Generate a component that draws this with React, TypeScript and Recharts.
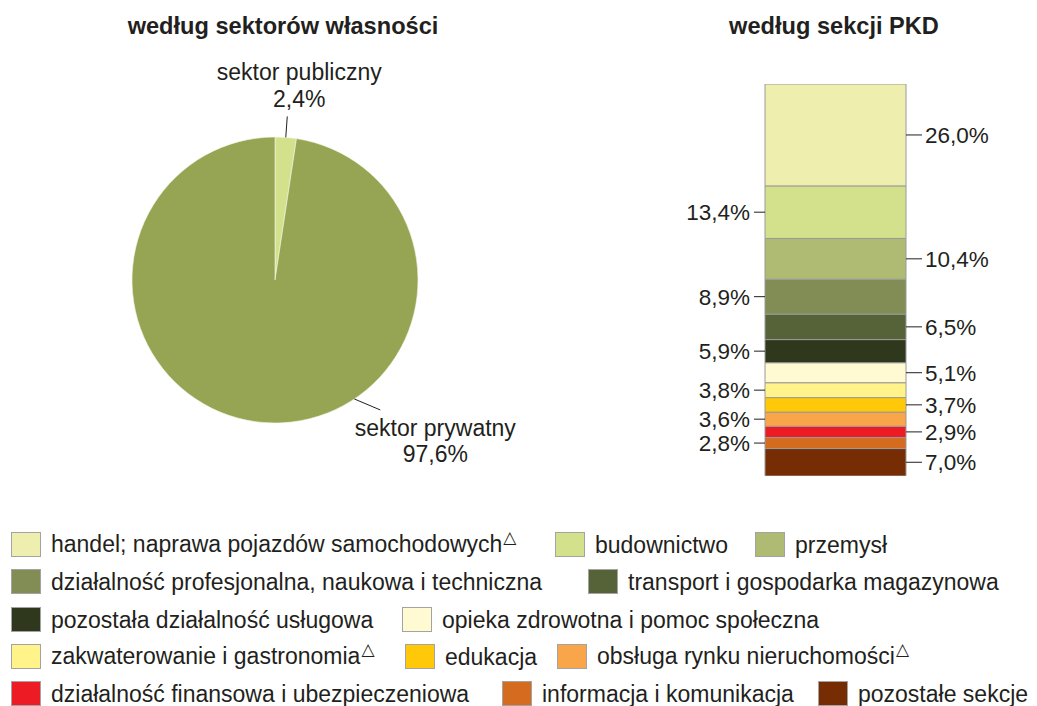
import { Bar, BarChart, Cell, Pie, PieChart, XAxis, YAxis } from "recharts";

// Ownership split (pie, left) and PKD section split (100% stacked column, right).

const ownershipNames = ["sektor publiczny", "sektor prywatny"];
const ownershipShares = [2.4, 97.6];
const ownershipColors = ["#d3e08c", "#95a553"];

// top of the column -> bottom
const sectionNames = [
  "handel; naprawa pojazdów samochodowych",
  "budownictwo",
  "przemysł",
  "działalność profesjonalna, naukowa i techniczna",
  "transport i gospodarka magazynowa",
  "pozostała działalność usługowa",
  "opieka zdrowotna i pomoc społeczna",
  "zakwaterowanie i gastronomia",
  "edukacja",
  "obsługa rynku nieruchomości",
  "działalność finansowa i ubezpieczeniowa",
  "informacja i komunikacja",
  "pozostałe sekcje",
];
const sectionShares = [26.0, 13.4, 10.4, 8.9, 6.5, 5.9, 5.1, 3.8, 3.7, 3.6, 2.9, 2.8, 7.0];
const sectionColors = [
  "#eeefae",
  "#d3e08c",
  "#afbb73",
  "#818d55",
  "#566338",
  "#2f381c",
  "#fffad2",
  "#fff38a",
  "#ffc90a",
  "#f9a54a",
  "#ed1c24",
  "#d56b1f",
  "#772d03",
];
const sectionMarked = [true, false, false, false, false, false, false, true, false, true, false, false, false];

// legend rows (indices into sectionNames) and the x of each swatch
const legendRows = [[0, 1, 2], [3, 4], [5, 6], [7, 8, 9], [10, 11, 12]];
const legendX = [[11, 555, 755], [11, 588], [11, 402], [11, 405, 557], [11, 502, 818]];

const FONT = "'Liberation Sans', Arial, sans-serif";
const INK = "#231f20";

const fmt = (v: number) => v.toFixed(1).replace(".", ",") + "%";

const pieData = ownershipNames.map((name, i) => ({ name, value: ownershipShares[i] }));

const barRow: Record<string, string | number> = { name: "PKD" };
sectionNames.forEach((n, i) => {
  barRow["s" + i] = sectionShares[i];
});

// leader offsets for the two pie labels
const leaderAngle = [null, -56.3];
const leaderEnd = [
  [1.5, -21],
  [26, 11],
];
const labelText = [
  [12, -36, -9],
  [55, 26, 52],
];

function OwnershipLabel(props: any) {
  const { cx, cy, outerRadius, midAngle, index, name, value } = props;
  const RAD = Math.PI / 180;
  const a = leaderAngle[index] ?? midAngle;
  const sx = cx + outerRadius * Math.cos(-a * RAD);
  const sy = cy + outerRadius * Math.sin(-a * RAD);
  const ex = sx + leaderEnd[index][0];
  const ey = sy + leaderEnd[index][1];
  const [dx, d1, d2] = labelText[index];
  return (
    <g>
      <line x1={sx} y1={sy} x2={ex} y2={ey} stroke={INK} strokeWidth={1} />
      <text x={ex + dx} y={ey + d1} textAnchor="middle" fontSize={23} fill={INK} fontFamily={FONT}>
        {name}
      </text>
      <text x={ex + dx} y={ey + d2} textAnchor="middle" fontSize={23} fill={INK} fontFamily={FONT}>
        {fmt(value)}
      </text>
    </g>
  );
}

const sectionLabel = (i: number) => (props: any) => {
  const { x, y, width, height } = props;
  const right = i % 2 === 0;
  const my = y + height / 2;
  if (right) {
    const x0 = x + width;
    return (
      <g>
        <line x1={x0} y1={my} x2={x0 + 16} y2={my} stroke={INK} strokeWidth={1} />
        <text x={x0 + 19} y={my + 8} fontSize={22.5} fill={INK} fontFamily={FONT}>
          {fmt(sectionShares[i])}
        </text>
      </g>
    );
  }
  return (
    <g>
      <line x1={x - 11} y1={my} x2={x} y2={my} stroke={INK} strokeWidth={1} />
      <text x={x - 15} y={my + 8} textAnchor="end" fontSize={22.5} fill={INK} fontFamily={FONT}>
        {fmt(sectionShares[i])}
      </text>
    </g>
  );
};

const titleStyle = {
  position: "absolute" as const,
  top: 13,
  fontSize: 23.6,
  fontWeight: 700,
  color: INK,
  transform: "translateX(-50%)",
  whiteSpace: "nowrap" as const,
};

export default function App() {
  const stackOrder = sectionNames.map((_, i) => i).reverse();
  return (
    <div
      style={{
        position: "absolute",
        left: 0,
        top: 0,
        width: 1037,
        height: 706,
        background: "#fff",
        fontFamily: FONT,
        overflow: "hidden",
      }}
    >
      <div style={{ ...titleStyle, left: 283 }}>według sektorów własności</div>
      <div style={{ ...titleStyle, left: 834 }}>według sekcji PKD</div>

      <div style={{ position: "absolute", left: 0, top: 0 }}>
        <PieChart width={560} height={490} margin={{ top: 0, right: 0, bottom: 0, left: 0 }}>
          <Pie
            data={pieData}
            dataKey="value"
            nameKey="name"
            cx={275}
            cy={280}
            outerRadius={143}
            startAngle={90}
            endAngle={-270}
            stroke="#f4f6e6"
            strokeWidth={0.6}
            labelLine={false}
            label={OwnershipLabel}
            isAnimationActive={false}
          >
            {pieData.map((d, i) => (
              <Cell key={d.name} fill={ownershipColors[i]} />
            ))}
          </Pie>
        </PieChart>
      </div>

      <div style={{ position: "absolute", left: 560, top: 0 }}>
        <BarChart
          width={477}
          height={500}
          data={[barRow]}
          barCategoryGap={0}
          margin={{ top: 84, right: 131, bottom: 24, left: 205 }}
        >
          <XAxis dataKey="name" hide />
          <YAxis type="number" domain={[0, 100]} allowDataOverflow hide />
          {stackOrder.map((i) => (
            <Bar
              key={i}
              dataKey={"s" + i}
              stackId="pkd"
              fill={sectionColors[i]}
              stroke="#9a9a9a"
              strokeWidth={1}
              label={sectionLabel(i)}
              isAnimationActive={false}
            />
          ))}
        </BarChart>
      </div>

      {legendRows.map((row, r) =>
        row.map((idx, k) => (
          <div
            key={idx}
            style={{
              position: "absolute",
              left: legendX[r][k],
              top: 532 + r * 37.3,
              height: 25,
              display: "flex",
              alignItems: "center",
              whiteSpace: "nowrap",
            }}
          >
            <span
              style={{
                display: "inline-block",
                width: 30,
                height: 25,
                boxSizing: "border-box",
                border: "1px solid #a3a3a3",
                background: sectionColors[idx],
                marginRight: 10,
              }}
            />
            <span style={{ fontSize: 23, color: INK, lineHeight: "25px", position: "relative", top: 1 }}>
              {sectionNames[idx]}
              {sectionMarked[idx] && (
                <span style={{ fontSize: 17, position: "relative", top: -9, marginLeft: 1, fontFamily: "DejaVu Sans" }}>
                  △
                </span>
              )}
            </span>
          </div>
        ))
      )}
    </div>
  );
}
